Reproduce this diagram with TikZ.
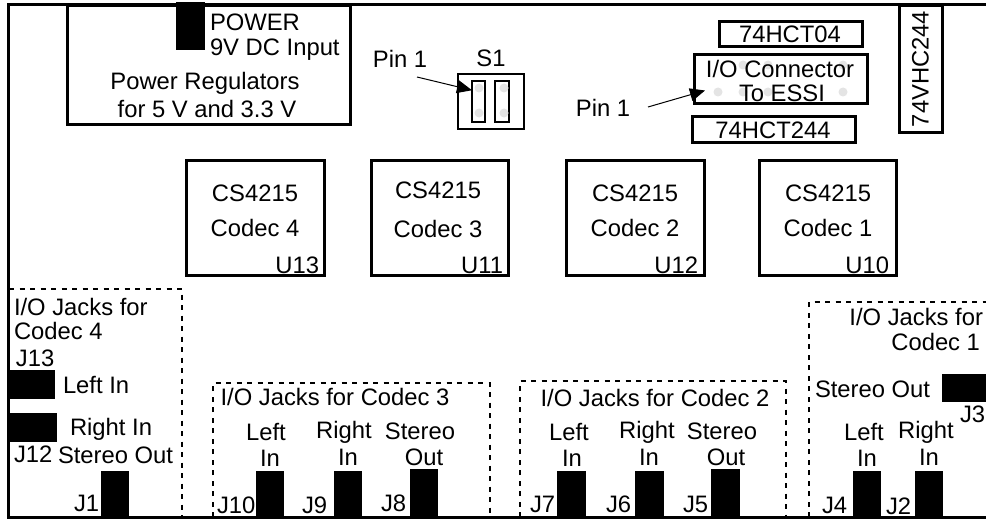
\documentclass[tikz,border=0pt]{standalone}
\usepackage{fontspec}
\setmainfont{Liberation Sans}
\usetikzlibrary{arrows.meta}
\definecolor{ink}{HTML}{000000}
\definecolor{pad}{HTML}{E4E4E4}
\tikzset{
  lbl/.style={inner sep=0pt,outer sep=0pt,text height=17pt,text depth=0pt,font=\fontsize{23.8}{28}\selectfont},
  chipbox/.style={draw=ink,line width=3pt,inner sep=0pt,outer sep=0pt,fill=white},
  swbox/.style={draw=ink,line width=2pt,inner sep=0pt,outer sep=0pt},
  jack/.style={fill=ink,inner sep=0pt,outer sep=0pt},
  jackzone/.style={ink,line width=1.7pt,dash pattern=on 5pt off 5.5pt},
  pinarrow/.style={ink,line width=1pt,-{Triangle[length=15pt,width=13pt]}}
}
\begin{document}
\begin{tikzpicture}[x=1pt,y=-1pt]
  \useasboundingbox (0,0) rectangle (986,519);

  % Dashed areas round the jacks
  \draw[jackzone] (9,289) -- (182,289) -- (182,517);
  \draw[jackzone] (213,517) -- (213,383) -- (490,383) -- (490,517);
  \draw[jackzone] (520,517) -- (520,381) -- (786,381) -- (786,517);
  \draw[jackzone] (809,517) -- (809,302) -- (986,302);

  % Board outline
  \draw[ink,line width=3pt] (986,4.5) -- (8.5,4.5) -- (8.5,517.5) -- (986,517.5);

  % Chips and connectors
  \foreach \nm/\cx/\cy/\w/\h in {psu/209/65/283/119, chipinv/790.5/34/143/25, essi/780.5/79/173/49,
      chipbuf/773.5/129/163/26, chipvhc/920.5/69/43/127, codecD/255/217.5/138/115,
      codecC/439.5/217.5/137/115, codecB/635/217.5/138/115, codecA/827.5/217.5/137/115} {
    \node[chipbox,minimum width=\w pt,minimum height=\h pt] (\nm) at (\cx,\cy) {};
  }

  % S1 switch
  \node[swbox,minimum width=66pt,minimum height=55pt] (swbody) at (490.5,101.5) {};
  \node[swbox,minimum width=13pt,minimum height=41pt] (swA) at (478.5,101.5) {};
  \node[swbox,minimum width=14pt,minimum height=41pt] (swB) at (502,101.5) {};

  % Pads
  \foreach \px/\py in {479/88, 479/113, 504/88, 504/113, 718/92, 743/92, 768/92, 843/92, 743/65, 768/65, 843/65} {
    \fill[pad] (\px,\py) circle (4.5);
  }

  % Jacks
  \foreach \nm/\cx/\cy/\w/\h in {jpower/190.5/26/29/48, jJ13/32/384.5/46/29, jJ12/33/427.5/48/29,
      jJ1/115/494/28/46, jJ10/270/494/28/46, jJ9/348/494/28/46, jJ8/424/493/28/48,
      jJ7/571.5/494/29/46, jJ6/649.5/494/29/46, jJ5/725.5/493/29/48,
      jJ4/867/494/28/46, jJ2/929/494/28/46, jJ3/964/388/44/28} {
    \node[jack,minimum width=\w pt,minimum height=\h pt] (\nm) at (\cx,\cy) {};
  }

  % Centred labels
  \foreach \nm/\cx/\cy/\lab in {
      lblreg/205/81/Power Regulators, lblvolt/207/109/for 5 V and 3.3 V, lblS/491/58/S1,
      lblinv/790/34/74HCT04, lblessi/780/69/{I/O Connector}, lblto/782/93/To ESSI, lblbuf/773/130/74HCT244,
      lblCD/255/193/CS4215, lblND/255/228/Codec 4, lblCC/438/190/CS4215, lblNC/438/229/Codec 3,
      lblCB/635/193/CS4215, lblNB/635/228/Codec 2, lblCA/828/193/CS4215, lblNA/828/228/Codec 1,
      lblzC/335/397/{I/O Jacks for Codec 3}, lblzB/655/398/{I/O Jacks for Codec 2},
      lblLC/266/432/Left, lblIC/270/458/In, lblRC/344/430/Right, lblIRC/348/457/In,
      lblSC/420/431/Stereo, lblOC/424/457/Out,
      lblLB/569/432/Left, lblIB/572/458/In, lblRB/647/430/Right, lblIRB/649/457/In,
      lblSB/722/431/Stereo, lblOB/726/457/Out,
      lblLA/864/432/Left, lblIA/867/458/In, lblRA/926/430/Right, lblIRA/929/457/In,
      lblpinS/400/59/Pin 1, lblpinE/603/108/Pin 1} {
    \node[lbl] (\nm) at (\cx,\cy) {\lab};
  }

  % Labels set from their left edge
  \foreach \nm/\cx/\cy/\lab in {
      lblpow/210/22/POWER, lbldc/210/47/9V DC Input, lblzD/14/307/{I/O Jacks for}, lblzDb/14/331/Codec 4,
      lblJa/16/358/J13, lblLD/63/385/Left In, lblRD/70/427/Right In, lblJb/14/454/J12, lblSD/58/455/Stereo Out,
      lblJc/74/503/J1, lblJd/217/505/J10, lblJe/302/505/J9, lblJf/381/503/J8,
      lblJg/530/504/J7, lblJh/606/504/J6, lblJi/683/504/J5, lblJj/822/505/J4, lblJk/886/506/J2,
      lblSA/815/389/Stereo Out, lblJl/960/414/J3} {
    \node[lbl,anchor=west] (\nm) at (\cx,\cy) {\lab};
  }

  % Labels set from their right edge
  \foreach \nm/\cx/\cy/\lab in {
      lblzA/983/317/{I/O Jacks for}, lblzAb/980/342/Codec 1,
      lblUD/319/264.5/U13, lblUC/503/264.5/U11, lblUB/698/264.5/U12, lblUA/889/264.5/U10} {
    \node[lbl,anchor=east] (\nm) at (\cx,\cy) {\lab};
  }

  \node[lbl,rotate=90] (lblvhc) at (920,69) {74VHC244};

  % Pin 1 arrows
  \coordinate (tailS) at (417,77);
  \coordinate (tailE) at (648,107);
  \coordinate (tipE) at (705,90.5);
  \draw[pinarrow] (tailS) -- (swA.120);
  \draw[pinarrow] (tailE) -- (tipE);
\end{tikzpicture}
\end{document}
